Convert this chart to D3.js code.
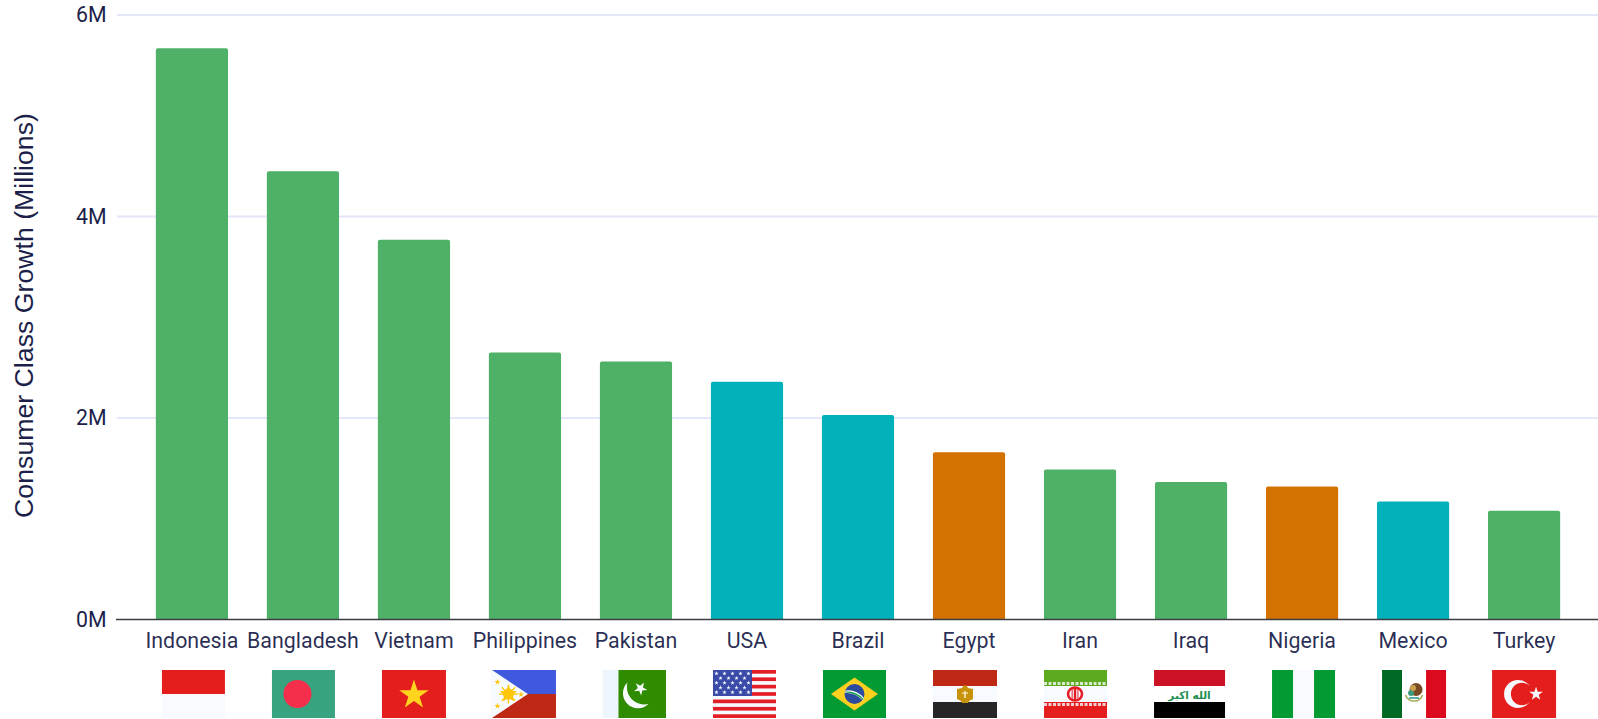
<!DOCTYPE html>
<html><head><meta charset="utf-8">
<script src="https://cdnjs.cloudflare.com/ajax/libs/d3/7.8.5/d3.min.js"></script>
<style>html,body{margin:0;padding:0;background:#fff;overflow:hidden}svg{display:block}
text{font-family:Roboto,sans-serif}</style></head><body><svg id="c" width="1598" height="719"></svg>
<script>
const countries=["Indonesia","Bangladesh","Vietnam","Philippines","Pakistan","USA","Brazil","Egypt","Iran","Iraq","Nigeria","Mexico","Turkey"];
const growth=[5.67,4.45,3.77,2.65,2.56,2.36,2.03,1.66,1.49,1.365,1.32,1.17,1.08];
const groups=["asia","asia","asia","asia","asia","america","america","africa","asia","asia","africa","america","asia"];
const yTicks=[0,2,4,6];
const colors={asia:"#4fb067",america:"#03b1ba",africa:"#d37200"};
const ink="#1c1f4a";

const svg=d3.select("#c");
const x=d3.scaleBand().domain(countries).range([117,1599]).padding(0.35);
const y=d3.scaleLinear().domain([0,6]).range([619.5,15]);

// grid
svg.append("g").selectAll("line").data(yTicks.filter(d=>d>0)).join("line")
 .attr("x1",117).attr("x2",1598).attr("y1",d=>y(d)).attr("y2",d=>y(d))
 .attr("stroke","#e4e6fa").attr("stroke-width",1.8);

// bars: square bottom, slightly rounded top
svg.append("g").selectAll("path").data(countries).join("path")
 .attr("fill",(d,i)=>colors[groups[i]])
 .attr("d",(d,i)=>{const a=x(d),w=x.bandwidth(),t=y(growth[i]),b=y(0),r=2;
   return `M${a},${b}V${t+r}Q${a},${t} ${a+r},${t}H${a+w-r}Q${a+w},${t} ${a+w},${t+r}V${b}Z`;});

// y axis
const yAxis=svg.append("g").attr("transform","translate(112,0)")
 .call(d3.axisLeft(y).tickValues(yTicks).tickFormat(d=>d+"M").tickSize(0).tickPadding(5.5));
yAxis.select(".domain").remove();
yAxis.selectAll("text").attr("font-family","Roboto").attr("font-size",21.3).attr("fill",ink);

// x axis
const xAxis=svg.append("g").attr("transform","translate(0,619.5)")
 .call(d3.axisBottom(x).tickSize(0).tickPadding(13));
xAxis.select(".domain").attr("stroke","#3c3c44").attr("stroke-width",1.4).attr("d","M116,0H1598");
xAxis.selectAll("text").attr("font-family","Roboto").attr("font-size",21.4).attr("fill",ink).attr("fill-opacity",.95);

svg.append("text").attr("transform","translate(32.5,315.5) rotate(-90)").attr("text-anchor","middle")
 .style("font-family","'Liberation Sans'").attr("font-size",26.7).attr("fill",ink)
 .text("Consumer Class Growth (Millions)");

// flags: each drawn in a local box W×48 whose top-left is placed from the band centre
const flagShift=[1.5,.5,0,-1,-1.5,-2.5,-3.5,-4,-4.5,-1.5,1.5,1,0];
const flagWidth=[63,63,64,64,63,63,63,64,63,71,63,64,64];
const star=(cx,cy,R,rot=-90,r=R*.382)=>{let p=[];for(let i=0;i<10;i++){const a=(rot+i*36)*Math.PI/180,q=i%2?r:R;p.push([cx+q*Math.cos(a),cy+q*Math.sin(a)]);}return "M"+p.map(d=>d.join(",")).join("L")+"Z";};
const rect=(g,a,b,w,h,f)=>g.append("rect").attr("x",a).attr("y",b).attr("width",w).attr("height",h).attr("fill",f);
const path=(g,d,f)=>g.append("path").attr("d",d).attr("fill",f);
const circ=(g,a,b,r,f)=>g.append("circle").attr("cx",a).attr("cy",b).attr("r",r).attr("fill",f);
const white="#f7fbff";
const flagDraw={
 Indonesia(g,W){rect(g,0,0,W,24,"#e41e1c");rect(g,0,24,W,24,white);},
 Bangladesh(g,W){rect(g,0,0,W,48,"#38a37f");circ(g,25.5,24,14,"#f52e4b");},
 Vietnam(g,W){rect(g,0,0,W,48,"#e41e1c");path(g,star(32,25,15.5),"#ffd31e");},
 Philippines(g,W){rect(g,0,0,W,24,"#3f58dd");rect(g,0,24,W,24,"#bf2815");path(g,"M0,0L36,24L0,48Z",white);
   path(g,star(16.5,24,9,-90,4),"#ffc60b");
   d3.range(8).forEach(i=>{const a=i*Math.PI/4;g.append("line").attr("x1",16.5+5*Math.cos(a)).attr("y1",24+5*Math.sin(a)).attr("x2",16.5+9.5*Math.cos(a)).attr("y2",24+9.5*Math.sin(a)).attr("stroke","#ffc60b").attr("stroke-width",1.4);});
   circ(g,16.5,24,5.5,"#ffc60b");
   path(g,star(5.5,12,3.2),"#ffc60b");path(g,star(5.5,36,3.2),"#ffc60b");path(g,star(29,24.5,3.2),"#ffc60b");},
 Pakistan(g,W){rect(g,0,0,W,48,"#2f8c00");rect(g,0,0,15.5,48,"#eef6fd");
   path(g,"M24.5,12.5A17.5,17.5 0 0 0 45.5,34A14.5,14.5 0 0 1 24.5,12.5Z",white);
   path(g,star(37.5,18.5,7,-60),white);},
 USA(g,W){rect(g,0,0,W,48,white);
   d3.range(7).forEach(i=>rect(g,0,i*7.38,W,3.7,"#e41e26"));
   rect(g,0,0,39,26,"#3a4aa8");
   d3.range(5).forEach(r=>d3.range(r%2?4:5).forEach(c=>path(g,star((r%2?7.5:3.5)+c*8,3.5+r*4.7,2.3),white)));},
 Brazil(g,W){rect(g,0,0,W,48,"#029a33");path(g,"M31.5,7.5L55,24L31.5,40.5L8,24Z","#fdcf1e");
   circ(g,31.5,24,10,"#2c4a9e");
   path(g,"M22.5,20.5Q33,19 41,28L40,30.5Q32,22 22,23Z",white);
   path(g,"M23,21.5Q33,20.5 40.5,29L40,30Q32,22.5 22.5,22.5Z","#16a04a");},
 Egypt(g,W){rect(g,0,0,W,16,"#bf2815");rect(g,0,16,W,16,white);rect(g,0,32,W,16,"#262626");
   path(g,"M24,19L29,18L30.5,15.5L33.5,15.5L35,18L40,19L40,29L36,31L35,33L29,33L28,31L24,29Z","#c6930b");
   rect(g,31.2,21,1.6,7,"#f5e9c0");rect(g,29,22.5,6,1.2,"#f5e9c0");},
 Iran(g,W){rect(g,0,0,W,16,"#5caa1e");rect(g,0,16,W,16,white);rect(g,0,32,W,16,"#e41e1c");
   g.append("line").attr("x1",0).attr("x2",W).attr("y1",13.5).attr("y2",13.5).attr("stroke",white).attr("stroke-opacity",.8).attr("stroke-width",3).attr("stroke-dasharray","3 1.5");
   g.append("line").attr("x1",0).attr("x2",W).attr("y1",34.5).attr("y2",34.5).attr("stroke",white).attr("stroke-opacity",.8).attr("stroke-width",3).attr("stroke-dasharray","3 1.5");
   g.append("ellipse").attr("cx",31).attr("cy",24).attr("rx",7).attr("ry",6.5).attr("fill","none").attr("stroke","#e41e26").attr("stroke-width",2.6);
   rect(g,29.8,17,2.4,14,"#e41e26");rect(g,27.6,18,1,12,"#e41e26");rect(g,33.4,18,1,12,"#e41e26");},
 Iraq(g,W){rect(g,0,0,W,16,"#cd1227");rect(g,0,16,W,16,"#fff");rect(g,0,32,W,16,"#000");
   g.append("text").attr("x",W/2).attr("y",28.5).attr("text-anchor","middle").style("font-family","'DejaVu Sans'").attr("font-size",10.5).attr("font-weight","bold").attr("fill","#1f8f50").text("الله اكبر");},
 Nigeria(g,W){rect(g,0,0,W,48,"#029a33");rect(g,21,0,21,48,white);},
 Mexico(g,W){rect(g,0,0,20,48,"#006a24");rect(g,20,0,24,48,"#fff");rect(g,44,0,20,48,"#dc0a1e");
   g.append("path").attr("d","M23.5,25A9,9 0 0 0 40.5,25").attr("fill","none").attr("stroke","#a9ab5a").attr("stroke-width",1.6);
   circ(g,34,19.5,6.5,"#7a4a24");circ(g,29,23,3,"#3a9a7a");circ(g,31,18,3,"#c8a050");rect(g,27,27,10,2,"#5ab0a0");},
 Turkey(g,W){rect(g,0,0,W,48,"#e41e1c");circ(g,26,24,14,white);circ(g,30,24,11.2,"#e41e1c");path(g,star(44,24,7.2,-162),white);}
};
svg.append("g").selectAll("g").data(countries).join("g")
 .attr("transform",(d,i)=>`translate(${x(d)+x.bandwidth()/2+flagShift[i]-flagWidth[i]/2},670)`)
 .each(function(d,i){flagDraw[d](d3.select(this),flagWidth[i]);});
</script></body></html>
